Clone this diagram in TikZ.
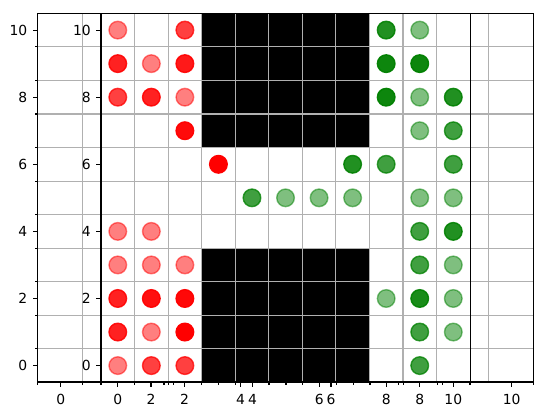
\documentclass[tikz,border=0pt]{standalone}
\usepackage{fontspec}
\setmainfont{DejaVu Sans}
\definecolor{gridgray}{HTML}{B0B0B0}
\definecolor{mplgreen}{HTML}{008000}
\definecolor{mplred}{HTML}{FF0000}
\begin{document}
\begin{tikzpicture}[x=1pt,y=-1pt,
  gridline/.style={draw=gridgray, line width=1.1pt},
  spine/.style={draw=black, line width=1.1pt},
  tickmark/.style={draw=black, line width=1.1pt},
  ticklabel/.style={font=\fontsize{13.9}{16}\selectfont, inner sep=0pt, text=black},
  dot/.style={circle, minimum size=17.6pt, inner sep=0pt, line width=1.4pt}
]
\useasboundingbox (0,0) rectangle (546,416);
\fill[white] (0,0) rectangle (546,416);
% black blocks
\fill[black] (201.65,13.3) rectangle (369.4,147.5);
\fill[black] (201.65,248.15) rectangle (369.4,382);
% grid
\foreach \k in {1,...,10}{
  \pgfmathsetmacro\yy{13.3+33.55*\k}
  \draw[gridline] (37.7,\yy) -- (533.3,\yy);
  \pgfmathsetmacro\xx{101+33.55*\k}
  \draw[gridline] (\xx,13.3) -- (\xx,382);
}
\draw[gridline] (82.5,13.3) -- (82.5,382);
\draw[gridline] (488.7,13.3) -- (488.7,382);
% dots
\foreach \c/\r/\a/\col in {
  0/10/0.5/mplred, 2/10/0.75/mplred,
  0/9/0.87/mplred, 1/9/0.5/mplred, 2/9/0.9/mplred,
  0/8/0.75/mplred, 1/8/0.87/mplred, 2/8/0.5/mplred,
  2/7/0.96/mplred,
  3/6/1.0/mplred,
  0/4/0.5/mplred, 1/4/0.5/mplred,
  0/3/0.5/mplred, 1/3/0.5/mplred, 2/3/0.5/mplred,
  0/2/0.87/mplred, 1/2/0.94/mplred, 2/2/0.97/mplred,
  0/1/0.87/mplred, 1/1/0.5/mplred, 2/1/1.0/mplred,
  0/0/0.5/mplred, 1/0/0.75/mplred, 2/0/0.75/mplred,
  8/10/0.87/mplgreen, 9/10/0.5/mplgreen,
  8/9/0.95/mplgreen, 9/9/0.95/mplgreen,
  8/8/0.95/mplgreen, 9/8/0.5/mplgreen, 10/8/0.87/mplgreen,
  9/7/0.5/mplgreen, 10/7/0.75/mplgreen,
  7/6/0.87/mplgreen, 8/6/0.75/mplgreen, 10/6/0.75/mplgreen,
  4/5/0.75/mplgreen, 5/5/0.5/mplgreen, 6/5/0.5/mplgreen, 7/5/0.5/mplgreen, 9/5/0.5/mplgreen, 10/5/0.5/mplgreen,
  9/4/0.75/mplgreen, 10/4/0.87/mplgreen,
  9/3/0.75/mplgreen, 10/3/0.5/mplgreen,
  8/2/0.5/mplgreen, 9/2/0.9/mplgreen, 10/2/0.5/mplgreen,
  9/1/0.75/mplgreen, 10/1/0.5/mplgreen,
  9/0/0.75/mplgreen}{
  \pgfmathsetmacro\px{101+33.55*(\c+0.5)}
  \pgfmathsetmacro\py{13.3+33.55*(10.5-\r)}
  \node[dot, fill=\col, draw=\col, fill opacity=\a, draw opacity=\a] (d\c-\r) at (\px,\py) {};
}
% spines
\draw[spine] (37.7,13.3) rectangle (533.3,382);
\draw[spine] (101,13.3) -- (101,382);
\draw[spine] (470.3,13.3) -- (470.3,382);
% bottom ticks
\foreach \x in {60.7,117.8,151,184.5,240.5,252.5,319.2,331,386.2,419.8,453.3,511.7}
  \draw[tickmark] (\x,382) -- (\x,386.9);
\foreach \x in {37.7,82.7,101,134.3,164,168.3,173.3,201.7,218.3,235.7,269,286,302.7,336.7,353.3,370,398.3,403.3,437.7,442.7,470,533.3}
  \draw[tickmark] (\x,382) -- (\x,384.8);
% left ticks
\foreach \r in {0,2,...,10}{
  \pgfmathsetmacro\py{13.3+33.55*(10.5-\r)}
  \draw[tickmark] (37.7,\py) -- (32.8,\py);
  \draw[tickmark] (101,\py) -- (96.1,\py);
}
\foreach \k in {1,...,10}{
  \pgfmathsetmacro\py{13.3+33.55*\k}
  \draw[tickmark] (37.7,\py) -- (34.9,\py);
}
% bottom labels
\foreach \x/\t [count=\i] in {60.7/0,117.8/0,151/2,184.5/2,240.5/4,252.5/4,319.2/6,331/6,386.2/8,419.8/8,453.3/10,511.7/10}
  \node[ticklabel, anchor=base] (xl\i) at (\x,404) {\t};
% left labels
\foreach \r in {0,2,...,10}{
  \pgfmathsetmacro\py{13.3+33.55*(10.5-\r)+5.07}
  \node[ticklabel, anchor=base east] (ylo\r) at (27.5,\py) {\r};
  \node[ticklabel, anchor=base east] (yli\r) at (91,\py) {\r};
}
\end{tikzpicture}
\end{document}
